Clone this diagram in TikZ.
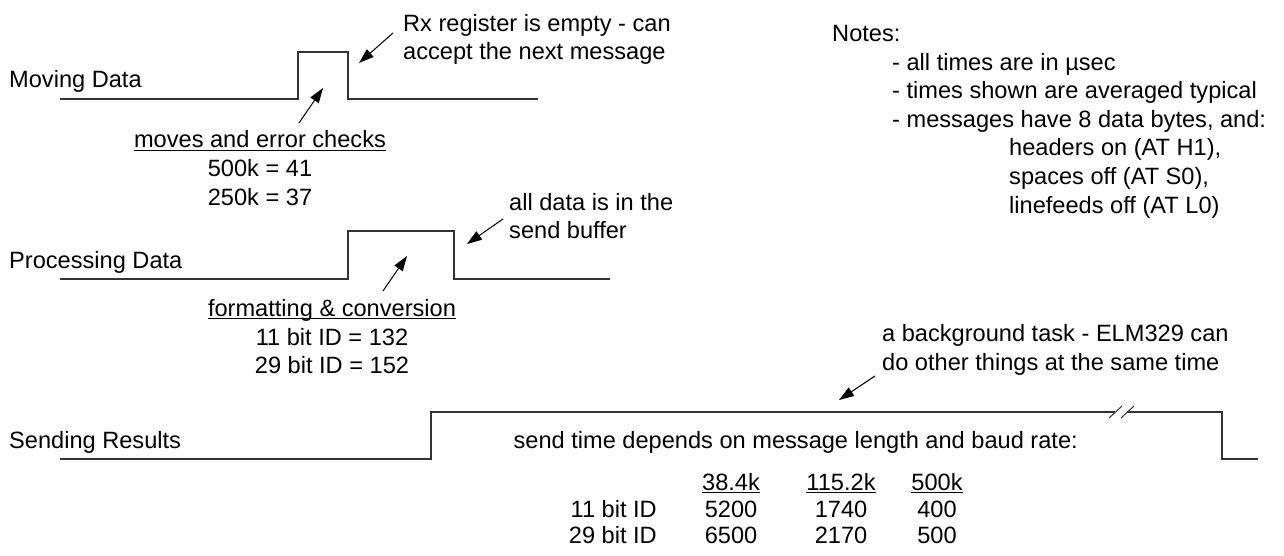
\documentclass[tikz,border=0pt]{standalone}
\usepackage{fontspec}
\setmainfont{Liberation Sans}
\usetikzlibrary{arrows.meta}
\newcommand\myul[1]{\setbox0\hbox{#1}\rlap{\rule[-2.8pt]{\wd0}{1.2pt}}\box0}
\begin{document}
\begin{tikzpicture}[x=1pt,y=-1pt,
  wave/.style={line width=1.4pt, draw=black!80, line join=miter},
  brk/.style={line width=1pt, draw=black!80},
  pointer/.style={line width=1pt, -{Triangle[length=15pt,width=10pt]}},
  txt/.style={inner sep=0pt, font=\fontsize{23.6}{28}\selectfont},
  lbl/.style={txt, anchor=base west},
  lble/.style={txt, anchor=base east},
  ctr/.style={txt, anchor=base},
  ]
\useasboundingbox (0,0) rectangle (1284,556);
% waveforms
\draw[wave] (60,99) -- (298,99) -- (298,52) -- (348,52) -- (348,99) -- (538,99);
\draw[wave] (60,279) -- (348,279) -- (348,231) -- (454,231) -- (454,279) -- (610,279);
\draw[wave] (60,459) -- (431,459) -- (431,412) -- (1115,412);
\draw[wave] (1127,412) -- (1222,412) -- (1222,459) -- (1258,459);
\draw[brk] (1109,418) -- (1122,406);
\draw[brk] (1121,418) -- (1134,406);
% arrow end points
\coordinate (rxT) at (393,33);   \coordinate (rxH) at (359,63);
\coordinate (mvT) at (299,123);  \coordinate (mvH) at (323,88);
\coordinate (adT) at (503,219);  \coordinate (adH) at (467,244);
\coordinate (fcT) at (383,291);  \coordinate (fcH) at (407,256);
\coordinate (bgT) at (875,376);  \coordinate (bgH) at (839,400);
\draw[pointer] (rxT) -- (rxH);
\draw[pointer] (mvT) -- (mvH);
\draw[pointer] (adT) -- (adH);
\draw[pointer] (fcT) -- (fcH);
\draw[pointer] (bgT) -- (bgH);
% labels
\node[lbl] (mvlab) at (9,88) {Moving Data};
\node[lbl] (pdlab) at (9,268) {Processing Data};
\node[lbl] (srlab) at (9,448) {Sending Results};
\node[lbl] (rx1) at (403,32) {Rx register is empty - can};
\node[lbl] (rx2) at (403,60) {accept the next message};
\node[ctr] (mv1) at (260,148) {\myul{moves and error checks}};
\node[ctr] (mv2) at (260,177) {500k = 41};
\node[ctr] (mv3) at (260,205) {250k = 37};
\node[lbl] (ad1) at (509,210) {all data is in the};
\node[lbl] (ad2) at (509,238) {send buffer};
\node[ctr] (fc1) at (332,316) {\myul{formatting \& conversion}};
\node[ctr] (fc2) at (332,345) {11 bit ID = 132};
\node[ctr] (fc3) at (332,373) {29 bit ID = 152};
\node[lbl] (bg1) at (882,341) {a background task - ELM329 can};
\node[lbl] (bg2) at (882,370) {do other things at the same time};
\node[lble] (st) at (1078,448) {send time depends on message length and baud rate:};
% table
\node[lble] (r1) at (657,517) {11 bit ID};
\node[lble] (r2) at (657,543) {29 bit ID};
\node[ctr] (h1) at (731,490) {\myul{38.4k}};
\node[ctr] (h2) at (841,490) {\myul{115.2k}};
\node[ctr] (h3) at (937,490) {\myul{500k}};
\node[ctr] (a1) at (731,517) {5200};
\node[ctr] (a2) at (841,517) {1740};
\node[ctr] (a3) at (937,517) {400};
\node[ctr] (b1) at (731,543) {6500};
\node[ctr] (b2) at (841,543) {2170};
\node[ctr] (b3) at (937,543) {500};
% notes
\node[lbl] (n0) at (832,42) {Notes:};
\node[lbl] (n1) at (892,70.5) {- all times are in µsec};
\node[lbl] (n2) at (892,99) {- times shown are averaged typical};
\node[lbl] (n3) at (892,127.5) {- messages have 8 data bytes, and:};
\node[lbl] (n4) at (1009,156) {headers on (AT H1),};
\node[lbl] (n5) at (1009,184.5) {spaces off (AT S0),};
\node[lbl] (n6) at (1009,213) {linefeeds off (AT L0)};
\end{tikzpicture}
\end{document}
